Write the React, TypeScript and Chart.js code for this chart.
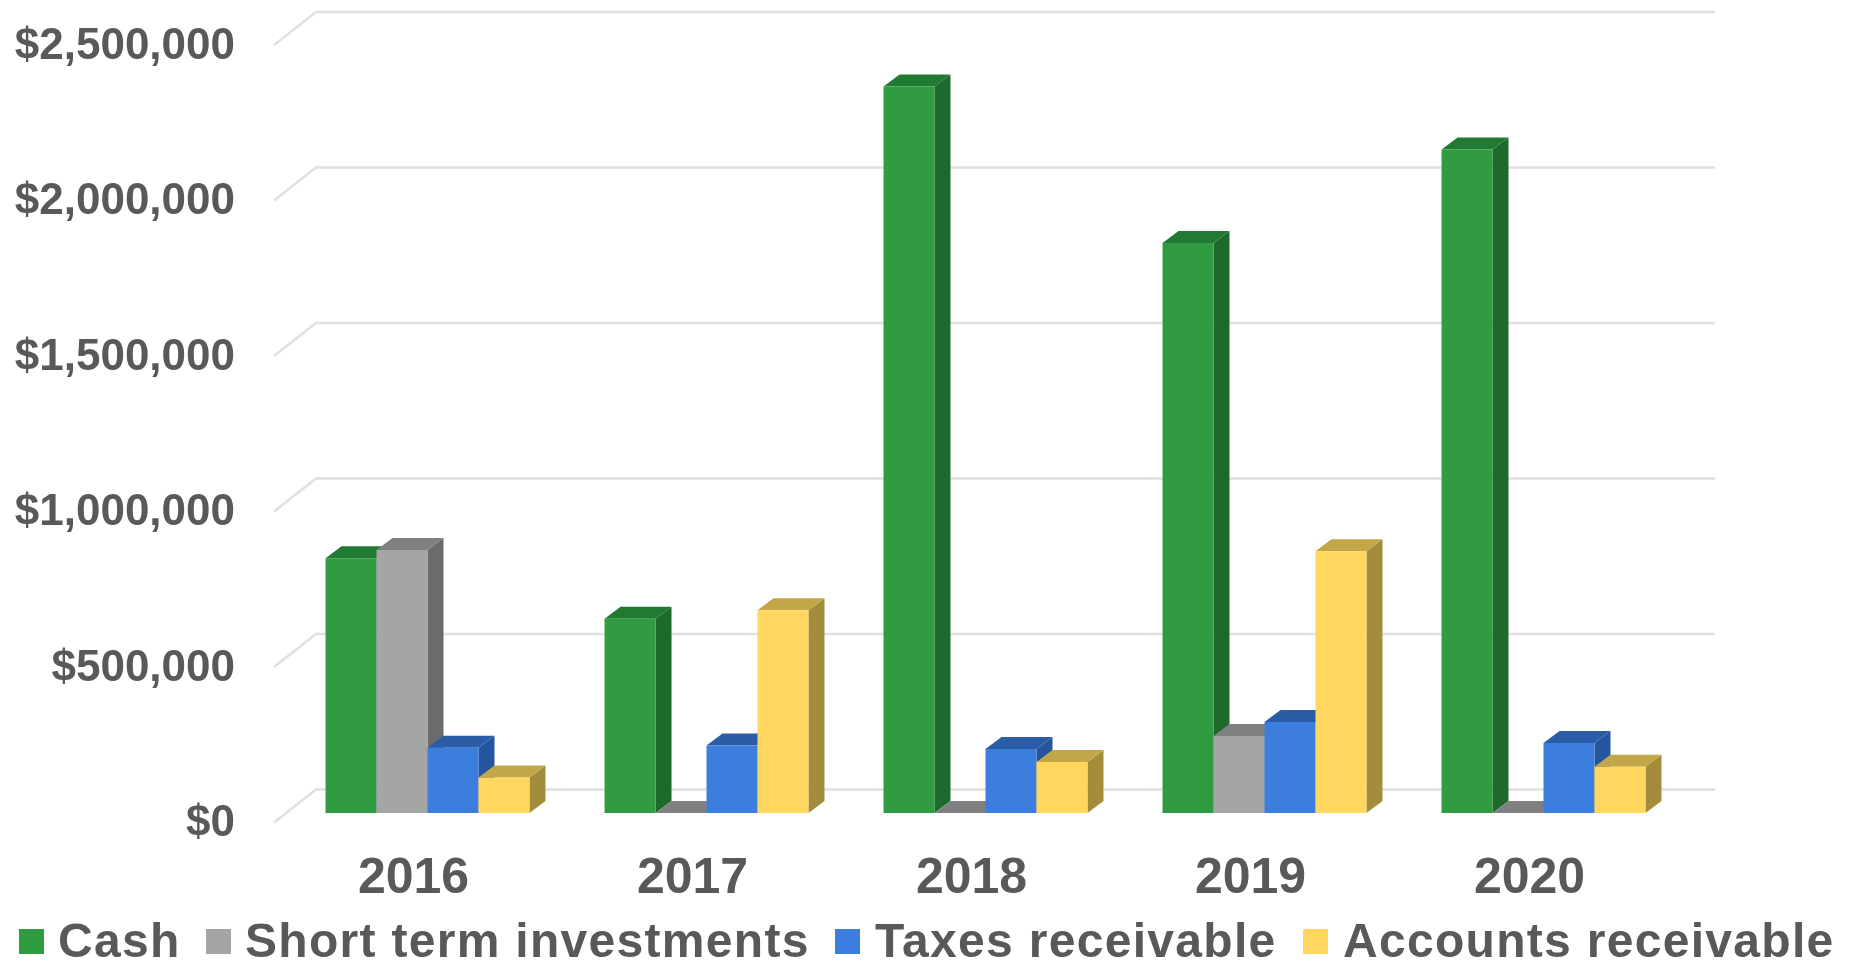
import React, { useEffect, useRef } from "react";
import { Chart, registerables } from "chart.js";

Chart.register(...registerables);

const years = ["2016", "2017", "2018", "2019", "2020"];
const cash = [819000, 625000, 2336000, 1833000, 2134000];
const shortTerm = [846000, 0, 0, 248000, 0];
const taxes = [210000, 217000, 206000, 293000, 225000];
const accounts = [114000, 652000, 164000, 842000, 149000];

const seriesNames = ["Cash", "Short term investments", "Taxes receivable", "Accounts receivable"];
const frontColors = ["#319b42", "#a5a5a5", "#3c7edd", "#ffd75e"];
const sideColors = ["#1e6a2c", "#6b6b6b", "#25559f", "#a38c3c"];
const topColors = ["#217a32", "#808080", "#2a5ca8", "#c3a648"];

const TEXT = "#595959";
const GRID = "#e0e0e0";
const FONT = "'Liberation Sans', Arial, sans-serif";

// Wall depth of the 3D box and the bars' own depth
const WALL_DX = 42;
const WALL_DY = 33;
const WALL_OVERHANG = 4;
const BAR_SHIFT_X = 14;
const BAR_SHIFT_Y = 9.4;
const BAR_DX = 16;
const BAR_DY = 12;

const polygon = (ctx: CanvasRenderingContext2D, color: string, pts: number[][]) => {
  ctx.fillStyle = color;
  ctx.beginPath();
  pts.forEach(([x, y], i) => (i ? ctx.lineTo(x, y) : ctx.moveTo(x, y)));
  ctx.closePath();
  ctx.fill();
};

const wallGrid = {
  id: "wallGrid",
  beforeDatasetsDraw(chart: any) {
    const { ctx, chartArea, scales } = chart;
    ctx.save();
    ctx.strokeStyle = GRID;
    ctx.lineWidth = 2.5;
    ctx.lineJoin = "round";
    scales.y.ticks.forEach((tick: any) => {
      const y = scales.y.getPixelForValue(tick.value);
      ctx.beginPath();
      ctx.moveTo(chartArea.left, y);
      ctx.lineTo(chartArea.left + WALL_DX, y - WALL_DY);
      ctx.lineTo(chartArea.right + WALL_DX + WALL_OVERHANG, y - WALL_DY);
      ctx.stroke();
    });
    ctx.restore();
  },
};

// Series are painted left to right so that each front face covers its
// left neighbour's side face; the default pass is skipped for that reason.
const extrudedBars = {
  id: "extrudedBars",
  beforeDatasetDraw() {
    return false;
  },
  afterDatasetsDraw(chart: any) {
    const { ctx } = chart;
    seriesNames.forEach((_, i) => {
      const meta = chart.getDatasetMeta(i);
      ctx.save();
      ctx.translate(BAR_SHIFT_X, -BAR_SHIFT_Y);
      meta.data.forEach((bar: any) => {
        const l = bar.x - bar.width / 2;
        const r = bar.x + bar.width / 2;
        polygon(ctx, sideColors[i], [
          [r, bar.y],
          [r + BAR_DX, bar.y - BAR_DY],
          [r + BAR_DX, bar.base - BAR_DY],
          [r, bar.base],
        ]);
        polygon(ctx, topColors[i], [
          [l, bar.y],
          [l + BAR_DX, bar.y - BAR_DY],
          [r + BAR_DX, bar.y - BAR_DY],
          [r, bar.y],
        ]);
      });
      meta.controller.draw();
      ctx.restore();
    });
  },
};

const bottomLegend = {
  id: "bottomLegend",
  afterDraw(chart: any) {
    const { ctx } = chart;
    const boxX = [19, 206, 835, 1303];
    const textX = [58, 245, 875, 1343];
    ctx.save();
    ctx.font = `bold 48px ${FONT}`;
    ctx.letterSpacing = "1.3px";
    ctx.textAlign = "left";
    ctx.textBaseline = "middle";
    seriesNames.forEach((name, i) => {
      ctx.fillStyle = frontColors[i];
      ctx.fillRect(boxX[i], 929, 25, 25);
      ctx.fillStyle = TEXT;
      ctx.fillText(name, textX[i], 944);
    });
    ctx.restore();
  },
};

export default function App() {
  const ref = useRef<HTMLCanvasElement>(null);

  useEffect(() => {
    const values = [cash, shortTerm, taxes, accounts];
    const chart = new Chart(ref.current!, {
      type: "bar",
      data: {
        labels: years,
        datasets: seriesNames.map((label, i) => ({
          label,
          data: values[i],
          backgroundColor: frontColors[i],
          borderWidth: 0,
          clip: false,
        })),
      } as any,
      plugins: [wallGrid, extrudedBars, bottomLegend],
      options: {
        animation: false,
        responsive: false,
        layout: { padding: { top: 45, right: 189, left: 0, bottom: 0 } },
        datasets: { bar: { barPercentage: 1, categoryPercentage: 0.731 } },
        plugins: { legend: { display: false }, tooltip: { enabled: false }, title: { display: false } },
        scales: {
          x: {
            grid: { display: false, drawTicks: false },
            border: { display: false },
            ticks: { color: TEXT, font: { family: FONT, size: 50, weight: "bold" }, padding: 27, maxRotation: 0 },
            afterFit(scale: any) {
              scale.height = 142.6;
              scale.paddingLeft = 0;
              scale.paddingRight = 0;
            },
          },
          y: {
            min: 0,
            max: 2500000,
            grid: { display: false, drawTicks: false },
            border: { display: false },
            ticks: {
              stepSize: 500000,
              color: TEXT,
              font: { family: FONT, size: 44, weight: "bold" },
              padding: 39,
              labelOffset: 1.5,
              callback: (v: any) => "$" + Number(v).toLocaleString("en-US"),
            },
            afterFit(scale: any) {
              scale.width = 274;
              scale.paddingTop = 0;
              scale.paddingBottom = 0;
            },
          },
        },
      },
    } as any);
    return () => chart.destroy();
  }, []);

  return (
    <div style={{ position: "fixed", left: 0, top: 0, width: 1858, height: 965, background: "#fff" }}>
      <canvas ref={ref} width={1858} height={965} style={{ display: "block" }} />
    </div>
  );
}
